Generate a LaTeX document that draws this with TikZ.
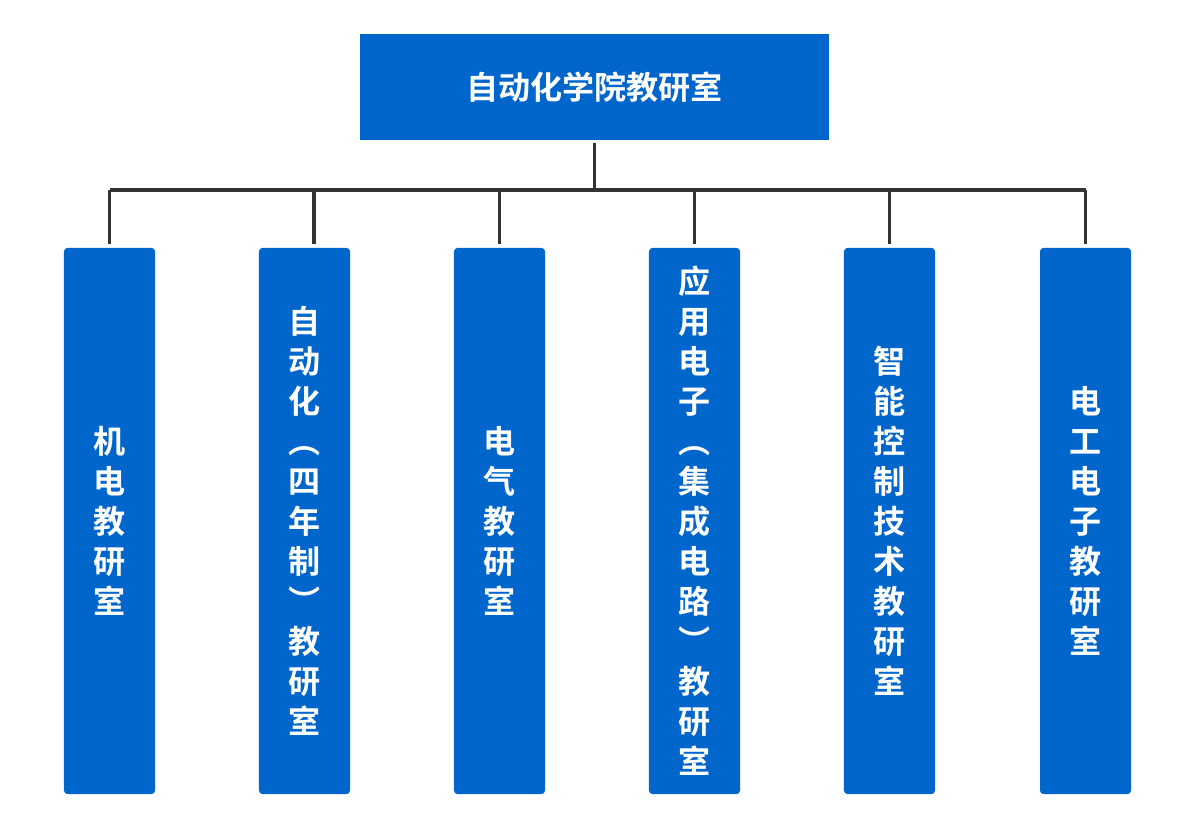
\documentclass[tikz,border=0pt]{standalone}
\usepackage{fontspec}
\newfontfamily\cjk{Noto Sans CJK SC}[BoldFont={Noto Sans CJK SC Bold}]
\usetikzlibrary{positioning}
\definecolor{boxblue}{HTML}{0066CC}
\definecolor{linegray}{HTML}{333333}
\tikzset{
	office/.style={fill=boxblue, text=white, font=\cjk\bfseries\fontsize{22.8}{28.45}\selectfont, align=center, inner sep=0pt},
	room/.style={office, rounded corners=2.5pt, minimum width=2.275cm, minimum height=13.65cm},
	link/.style={draw=linegray, line width=2.6pt},
}
\begin{document}
\begin{tikzpicture}[x=0.025cm,y=-0.025cm]
		\useasboundingbox (0,0) rectangle (1204,822);
		\node [office, minimum width=11.725cm, minimum height=2.65cm] at (594.5,87) (top) {自动化学院教研室};
		\foreach \x/\l/\t in {109.5/1/{机\\电\\教\\研\\室}, 304.5/2/{自\\动\\化\\︵\\四\\年\\制\\︶\\教\\研\\室}, 499.5/3/{电\\气\\教\\研\\室}, 694.5/4/{应\\用\\电\\子\\︵\\集\\成\\电\\路\\︶\\教\\研\\室}, 889.5/5/{智\\能\\控\\制\\技\\术\\教\\研\\室}, 1085.5/6/{电\\工\\电\\子\\教\\研\\室}}
			\node [room] at (\x,521) (r_\l) {\t};
		\coordinate (bus) at (594.5,190);
		\draw [link, shorten <=0.07cm, shorten >=0.05cm] (top.south) -- (bus);
		\draw [link] (r_1.north |- bus) -- (r_6.north |- bus);
		\foreach \l in {1, 3, 4, 5, 6}
			\draw [link, shorten >=0.08cm] (r_\l.north |- bus) -- (r_\l.north);
		\draw [link, shorten >=0.08cm] ([xshift=0.24cm]r_2.north |- bus) -- ([xshift=0.24cm]r_2.north);
	\end{tikzpicture}
\end{document}
